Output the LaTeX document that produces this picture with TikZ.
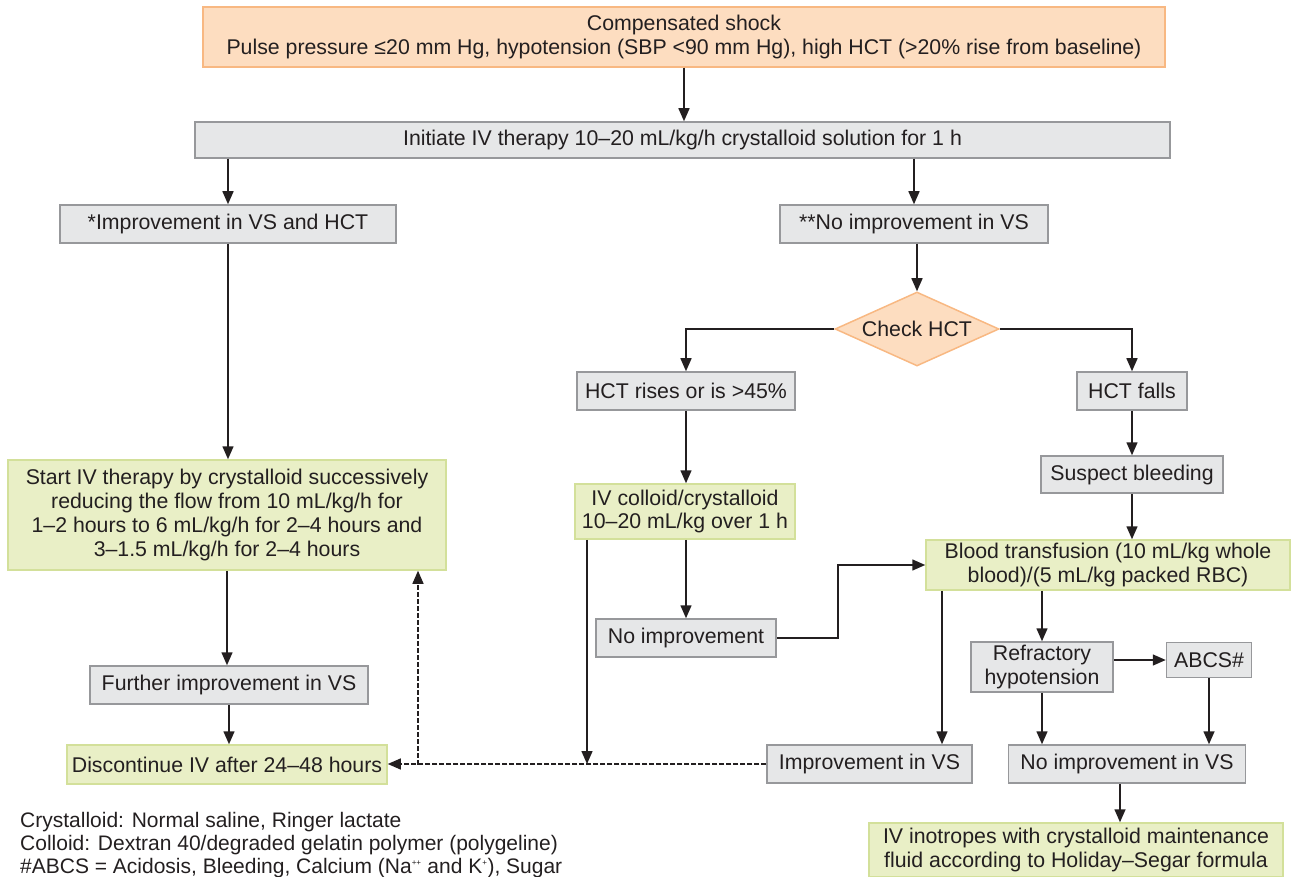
\documentclass[tikz,border=0pt]{standalone}
\usepackage{fontspec}
\setmainfont{Liberation Sans}
\usetikzlibrary{shapes.geometric,arrows.meta}
\definecolor{inkc}{HTML}{231F20}
\definecolor{grayfill}{HTML}{E6E7E8}
\definecolor{graydraw}{HTML}{97989B}
\definecolor{orfill}{HTML}{FDDDC0}
\definecolor{ordraw}{HTML}{F8B882}
\definecolor{grfill}{HTML}{E9EFC6}
\definecolor{grdraw}{HTML}{D3E09A}
\tikzset{
  every node/.style={font=\fontsize{21.3}{23.7}\selectfont, text=inkc},
  box/.style={draw=graydraw, fill=grayfill, line width=1.5pt, inner sep=2pt, align=center},
  greybox/.style={box},
  greenbox/.style={box, draw=grdraw, fill=grfill},
  orangebox/.style={box, draw=ordraw, fill=orfill},
  sz/.style 2 args={minimum width=#1pt, minimum height=#2pt},
  flow/.style={draw=inkc, line width=1.5pt, -{Triangle[length=13pt,width=11pt]}},
  dflow/.style={flow, line width=1.2pt, dash pattern=on 5pt off 2pt},
}
\begin{document}
\begin{tikzpicture}[x=1pt,y=-1pt]
\useasboundingbox (0,0) rectangle (1291,877);

% boxes
\node[orangebox, sz={962}{60}] (top) at (684,37) {Compensated shock\\Pulse pressure ≤20 mm Hg, hypotension (SBP <90 mm Hg), high HCT (>20\% rise from baseline)};
\node[greybox, sz={975}{36}] (init) at (682.5,140) {Initiate IV therapy 10–20 mL/kg/h crystalloid solution for 1 h};
\node[greybox, sz={336}{38}] (imp) at (228,224) {*Improvement in VS and HCT};
\node[greybox, sz={268}{38}] (noimp) at (914,224) {**No improvement in VS};
\node[diamond, draw=ordraw, fill=orfill, line width=1.5pt, inner sep=0pt, aspect=2.2, sz={164}{74}] (check) at (917,329) {Check HCT};
\node[greybox, sz={218}{38}] (hrise) at (686,391) {HCT rises or is >45\%};
\node[greybox, sz={110}{38}] (hfall) at (1132,391) {HCT falls};
\node[greybox, sz={182}{37}] (susp) at (1132,474.5) {Suspect bleeding};
\node[greenbox, sz={220}{55}] (colloid) at (685,511.5) {IV colloid/crystalloid\\10–20 mL/kg over 1 h};
\node[greenbox, sz={364}{50}] (blood) at (1108,565) {Blood transfusion (10 mL/kg whole\\blood)/(5 mL/kg packed RBC)};
\node[greybox, sz={180}{38}] (noimpb) at (686,638) {No improvement};
\node[greenbox, sz={438}{110}] (start) at (227,515) {Start IV therapy by crystalloid successively\\reducing the flow from 10 mL/kg/h for\\1–2 hours to 6 mL/kg/h for 2–4 hours and\\3–1.5 mL/kg/h for 2–4 hours};
\node[greybox, sz={142}{50}] (refr) at (1042,667) {Refractory\\hypotension};
\node[greybox, sz={85}{35}] (abcs) at (1209,660) {ABCS\#};
\node[greybox, sz={278}{38}] (further) at (229,685) {Further improvement in VS};
\node[greenbox, sz={320}{39}] (disc) at (227,764.5) {Discontinue IV after 24–48 hours};
\node[greybox, sz={205}{38}] (impvs) at (869.5,764) {Improvement in VS};
\node[greybox, sz={237}{38}] (noimpvs) at (1127,764) {No improvement in VS};
\node[greenbox, sz={414}{54}] (inotr) at (1076,850) {IV inotropes with crystalloid maintenance\\fluid according to Holiday–Segar formula};

% notes
\node[anchor=north west, align=left, inner sep=0pt, font=\fontsize{21}{23}\selectfont] (notes) at (20,812)
  {Crystalloid: Normal saline, Ringer lactate\\
   Colloid: Dextran 40/degraded gelatin polymer (polygeline)\\
   \#ABCS = Acidosis, Bleeding, Calcium (Na\textsuperscript{\footnotesize ++} and K\textsuperscript{\footnotesize +}), Sugar};

% routing points
\coordinate (bendA) at (838,0);
\coordinate (dropC) at (587,764);
\coordinate (dropB) at (942,0);
\coordinate (backD) at (418,0);
\coordinate (dropI) at (1120,0);

% connectors
\path[flow] (top.south) -- (top.south |- init.north);
\path[flow] (imp.north |- init.south) -- (imp.north);
\path[flow] (noimp.north |- init.south) -- (noimp.north);
\path[flow] (check.north |- noimp.south) -- (check.north);
\path[flow] (check.west) -| (hrise.north);
\path[flow] (check.east) -| (hfall.north);
\path[flow] (hrise.south) -- (hrise.south |- colloid.north);
\path[flow] (hfall.south) -- (susp.north);
\path[flow] (susp.south) -- (susp.south |- blood.north);
\path[flow] (noimpb.north |- colloid.south) -- (noimpb.north);
\path[flow] (noimpb.east) -- (noimpb.east -| bendA) |- (blood.west);
\path[flow] (colloid.south -| dropC) -- (dropC);
\path[flow] (blood.south -| dropB) -- (impvs.north -| dropB);
\path[flow] (refr.north |- blood.south) -- (refr.north);
\path[flow] (refr.east |- abcs.west) -- (abcs.west);
\path[flow] (refr.south) -- (refr.south |- noimpvs.north);
\path[flow] (abcs.south) -- (abcs.south |- noimpvs.north);
\path[flow] (noimpvs.south -| dropI) -- (inotr.north -| dropI);
\path[flow] (imp.south) -- (imp.south |- start.north);
\path[flow] (start.south) -- (start.south |- further.north);
\path[flow] (further.south) -- (further.south |- disc.north);
\path[dflow] (impvs.west) -- (impvs.west -| disc.east);
\path[dflow] (disc.east -| backD) -- (start.south -| backD);
\end{tikzpicture}
\end{document}
